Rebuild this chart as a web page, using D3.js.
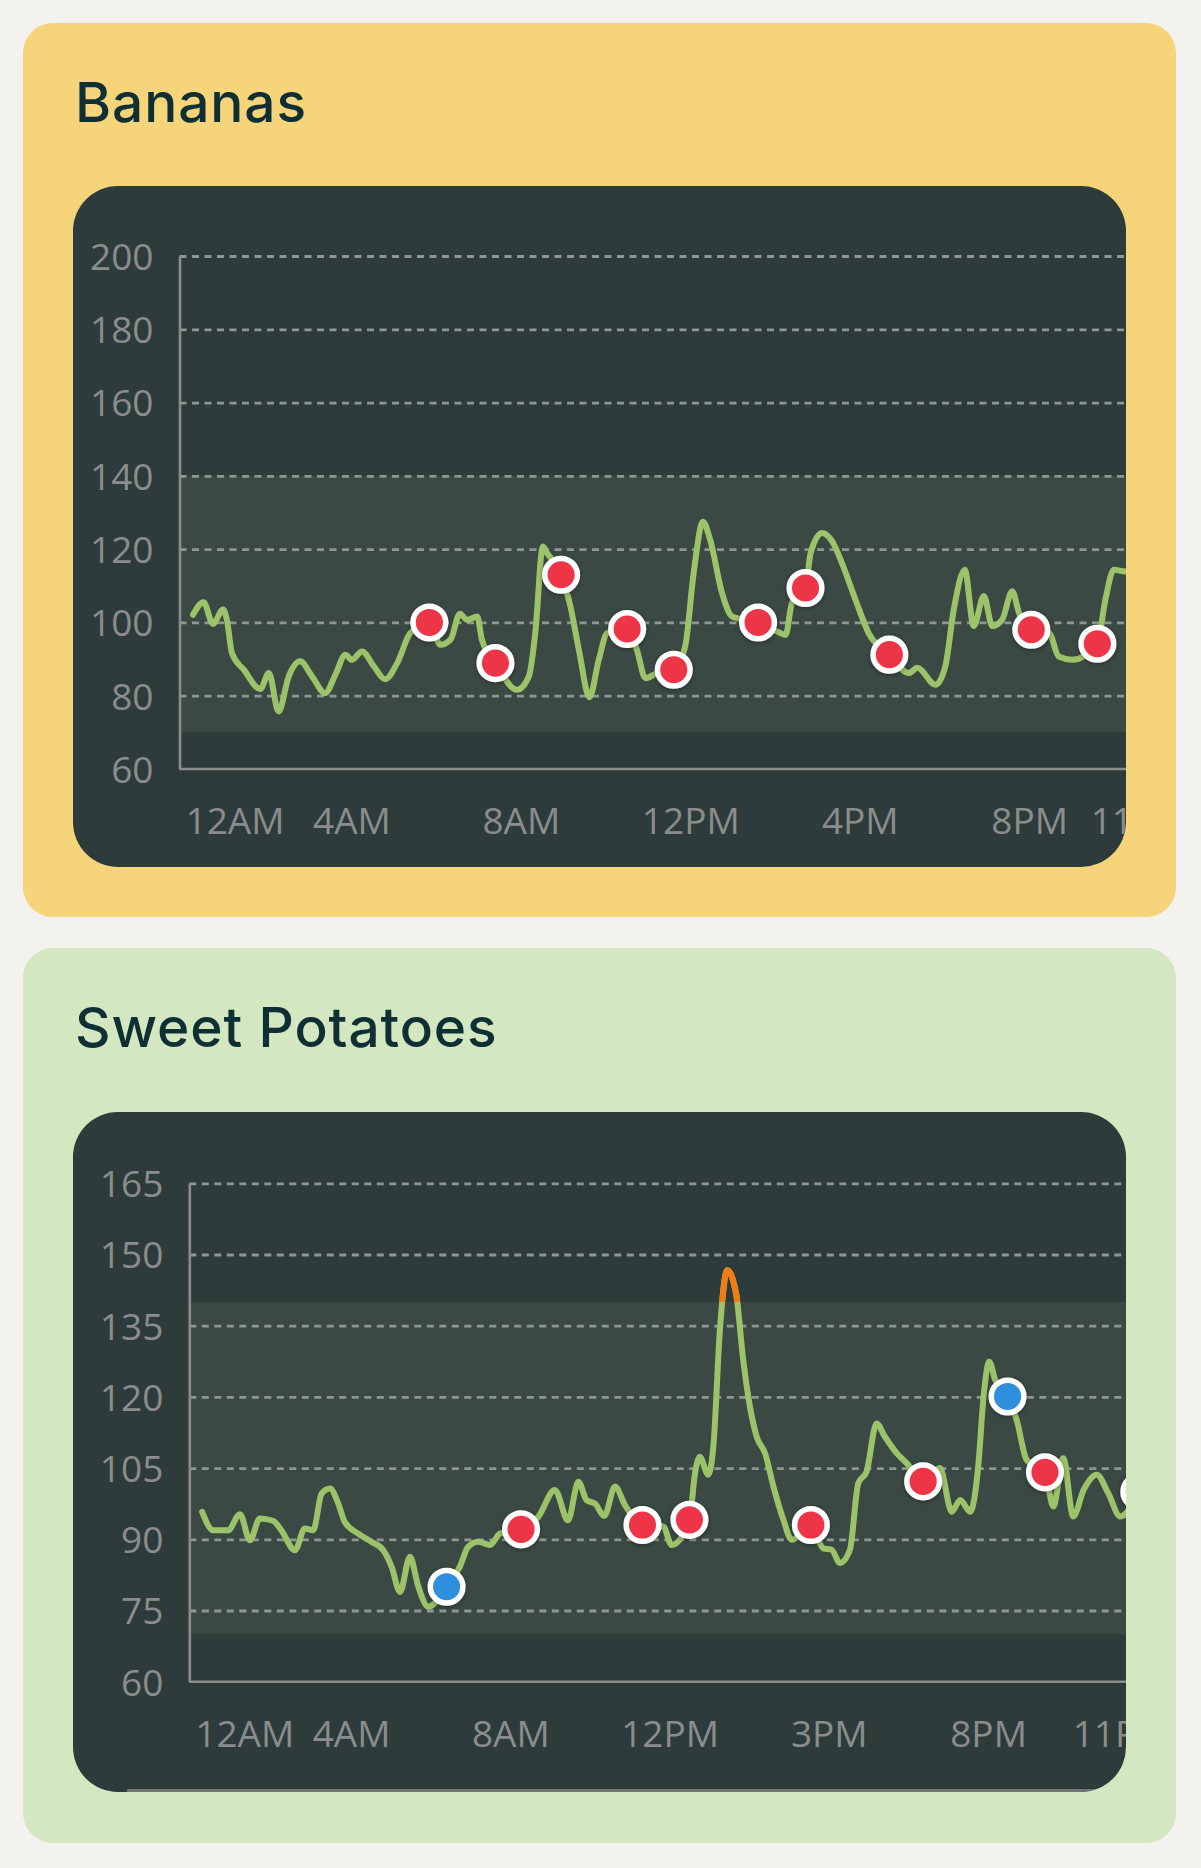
<!DOCTYPE html>
<html>
<head>
<meta charset="utf-8">
<script src="https://cdn.jsdelivr.net/npm/d3@7/dist/d3.min.js"></script>
<style>
  body { margin: 0; background: #f3f2ee; }
  svg { display: block; }
  .title { font-family: Inter, "Noto Sans", sans-serif; font-size: 55px; font-weight: 500; fill: #0e2f34; letter-spacing: 0.9px; }
  .tick text { font-family: "Open Sans", "Noto Sans", sans-serif; font-size: 37px; fill: #8b8d8c; }
</style>
</head>
<body>
<script>
// ---- Bananas ----
var bananaHours  = [0.26,0.51,0.73,0.97,1.06,1.18,1.46,1.85,2.05,2.28,2.52,2.79,3.07,3.38,3.62,3.86,4.01,4.25,4.53,4.80,
                    5.08,5.39,5.84,6.10,6.34,6.56,6.73,6.97,7.08,7.40,7.91,8.19,8.34,8.52,8.62,8.95,9.17,9.37,9.62,9.84,
                    10.04,10.51,10.74,10.94,11.22,11.61,11.88,12.08,12.30,12.47,12.75,12.99,13.60,14.05,14.25,14.40,14.72,14.84,15.11,15.35,
                    15.58,15.90,16.21,16.70,17.16,17.36,17.79,18.02,18.22,18.48,18.69,18.93,19.13,19.36,19.60,19.76,20.05,20.47,20.70,21.02,
                    21.61,21.80,22.00,22.27,22.43];
var bananaValues = [102.1,105.5,99.6,103.5,100.7,91.6,87.1,81.8,86.2,75.7,85.3,89.4,85.3,80.7,85.7,91.2,89.8,92.1,88.0,84.5,
                    88.9,97.1,100,93.9,95.3,102.4,100.7,101.6,95.3,88.9,81.6,85.3,97.1,120.7,118.9,113,104.4,92.5,79.6,89.8,
                    97.1,98.2,92.5,84.8,86.2,87.1,93.5,113.5,127.5,122.5,108,101.6,100,97.5,96.6,105.3,109.4,118.9,124.4,122.1,
                    116.2,106.2,97.1,91.2,86.2,87.6,83.0,88.0,103.5,114.4,99.0,107.2,99.0,100.7,108.5,102.6,98.0,97.1,90.7,89.8,
                    94.2,106.2,114.4,113.9,116.2];
var bananaMarkHours  = [5.84,7.40,8.95,10.51,11.61,13.60,14.72,16.70,20.05,21.61];
var bananaMarkValues = [100,88.9,113,98.2,87.1,100,109.4,91.2,98.0,94.2];
var bananaMarkKinds  = ["high","high","high","high","high","high","high","high","high","high"];
var bananaYTicks = [60,80,100,120,140,160,180,200];
var bananaBand   = [70,140];

// ---- Sweet Potatoes ----
var potatoHours  = [0.26,0.54,0.91,1.21,1.46,1.71,2.04,2.25,2.59,2.84,3.05,3.26,3.47,3.68,3.84,4.18,4.51,4.81,5.02,5.23,
                    5.48,5.69,5.94,6.40,6.73,6.94,7.19,7.49,7.74,8.27,8.70,9.12,9.45,9.71,9.92,10.13,10.36,10.63,10.88,11.32,
                    11.84,12.05,12.50,12.64,12.76,12.97,13.10,13.27,13.45,13.67,13.85,14.02,14.19,14.40,14.61,14.86,15.07,15.55,15.86,16.07,
                    16.28,16.53,16.74,16.95,17.20,17.41,17.71,17.96,18.37,18.79,19.09,19.30,19.55,19.76,19.88,20.03,20.18,20.49,20.72,20.97,
                    21.43,21.64,21.89,22.14,22.40,22.73,23.02,23.32,23.80];
var potatoValues = [95.8,91.9,91.9,95.3,89.8,94.4,93.9,91.9,87.7,92.3,91.9,99.6,100.7,97.5,93.7,91.2,89.5,87.7,84.2,78.9,
                    86.3,80.0,75.8,80.0,84.2,88.4,89.5,88.8,91.2,92.1,94.7,100.4,94.0,102.1,98.2,97.5,94.9,101.1,97.2,93.0,
                    92.7,88.8,94.1,103.9,107.4,103.6,109.5,134.8,146.7,141.8,127.8,117.9,111.6,108.1,101.1,94.1,89.9,93.0,88.1,87.8,
                    85.0,87.8,101.8,104.3,114.4,111.6,108.1,106.0,102.2,105.0,95.8,98.3,95.8,106.0,119.4,127.4,123.6,120.1,115.1,106.7,
                    104.1,96.9,107.1,94.8,100.4,103.6,99.7,94.8,100];
var potatoMarkHours  = [6.40,8.27,11.32,12.50,15.55,18.37,20.49,21.43,23.80];
var potatoMarkValues = [80.0,92.1,93.0,94.1,93.0,102.2,120.1,104.1,100];
var potatoMarkKinds  = ["low","high","high","high","high","high","low","high","high"];
var potatoYTicks = [60,75,90,105,120,135,150,165];
var potatoBand   = [70,140];

// ---- x axis labels ----
var tickHours = [0,4,8,12,16,20,23];
var bananaXLabels = ["12AM","4AM","8AM","12PM","4PM","8PM","11PM"];
var potatoXLabels = ["12AM","4AM","8AM","12PM","3PM","8PM","11PM"];

var markColor = { high: "#ee3447", low: "#2e8fdf" };

var svg = d3.select("body").append("svg")
  .attr("width", 1201)
  .attr("height", 1868);

var defs = svg.append("defs");
defs.append("filter").attr("id", "shadow")
  .attr("x", "-50%").attr("y", "-50%").attr("width", "200%").attr("height", "200%")
  .append("feDropShadow")
  .attr("dx", 0).attr("dy", 1).attr("stdDeviation", 2.2)
  .attr("flood-color", "#000").attr("flood-opacity", 0.4);

function drawCard(o) {
  var panelLeft = 73, panelRight = 1126;
  var g = svg.append("g");

  g.append("rect")
    .attr("x", 23).attr("y", o.cardY)
    .attr("width", 1153).attr("height", o.cardH)
    .attr("rx", 30)
    .attr("fill", o.cardColor);

  g.append("text")
    .attr("class", "title")
    .attr("x", 75).attr("y", o.titleY)
    .text(o.title);

  defs.append("clipPath").attr("id", "panel-" + o.id)
    .append("rect")
    .attr("x", panelLeft).attr("y", o.panelY)
    .attr("width", panelRight - panelLeft).attr("height", o.panelH)
    .attr("rx", 45);

  var p = g.append("g").attr("clip-path", "url(#panel-" + o.id + ")");

  p.append("rect")
    .attr("x", panelLeft).attr("y", o.panelY)
    .attr("width", panelRight - panelLeft).attr("height", o.panelH)
    .attr("fill", "#2e3b3b");

  var x = d3.scaleLinear().domain([0, o.xMax]).range([o.axisX + 2.5, o.xRight]);
  var y = d3.scaleLinear().domain([o.yTicks[0], o.yTicks[o.yTicks.length - 1]]).range([o.yBottom, o.yTop]);

  // normal range band
  p.append("rect")
    .attr("x", o.axisX).attr("y", y(o.band[1]))
    .attr("width", panelRight - o.axisX)
    .attr("height", y(o.band[0]) - y(o.band[1]))
    .attr("fill", "#3a4943");

  // dashed grid
  var grid = p.append("g")
    .attr("transform", "translate(" + o.axisX + ",0)")
    .call(d3.axisLeft(y).tickValues(o.yTicks.slice(1)).tickSize(-(panelRight - o.axisX)).tickFormat(""));
  grid.select(".domain").remove();
  grid.selectAll(".tick line")
    .attr("stroke", "#8f9693")
    .attr("stroke-width", 2.8)
    .attr("stroke-dasharray", "7,5.5");

  // y axis with labels
  var yAxis = p.append("g")
    .attr("transform", "translate(" + o.axisX + ",0)")
    .call(d3.axisLeft(y).tickValues(o.yTicks).tickSize(0).tickSizeOuter(0).tickPadding(26));
  yAxis.select(".domain").attr("stroke", "#8a8d8c").attr("stroke-width", 2.6);
  yAxis.selectAll(".tick text").attr("dy", "0.36em");

  // x axis line
  p.append("line")
    .attr("x1", o.axisX).attr("x2", panelRight)
    .attr("y1", o.yBottom).attr("y2", o.yBottom)
    .attr("stroke", "#8a8d8c").attr("stroke-width", 2.6);

  var xAxis = p.append("g")
    .attr("transform", "translate(0," + o.yBottom + ")")
    .call(d3.axisBottom(x).tickValues(tickHours).tickSize(0)
      .tickFormat(function (d, i) { return o.xLabels[i]; }));
  xAxis.select(".domain").remove();
  xAxis.selectAll(".tick text")
    .attr("y", 65).attr("dy", 0)
    .attr("text-anchor", function (d, i) {
      if (i === 0) return "start";
      if (i === tickHours.length - 1) return "end";
      return "middle";
    })
    .attr("x", function (d, i) {
      if (i === 0) return 3;
      if (i === tickHours.length - 1) return o.xRight - x(d);
      return 0;
    });

  // line
  var pts = o.hours.map(function (h, i) { return [h, o.values[i]]; });
  var line = d3.line()
    .x(function (d) { return x(d[0]); })
    .y(function (d) { return y(d[1]); })
    .curve(d3.curveMonotoneX);

  p.append("path")
    .datum(pts)
    .attr("d", line)
    .attr("fill", "none")
    .attr("stroke", "#9cc36a")
    .attr("stroke-width", 6)
    .attr("stroke-linejoin", "round")
    .attr("stroke-linecap", "round");

  // part above the band drawn in orange
  defs.append("clipPath").attr("id", "above-" + o.id)
    .append("rect")
    .attr("x", panelLeft).attr("y", o.panelY)
    .attr("width", panelRight - panelLeft)
    .attr("height", y(o.band[1]) - o.panelY);

  p.append("g").attr("clip-path", "url(#above-" + o.id + ")")
    .append("path")
    .datum(pts)
    .attr("d", line)
    .attr("fill", "none")
    .attr("stroke", "#f07d14")
    .attr("stroke-width", 6)
    .attr("stroke-linejoin", "round");

  // markers
  var marks = o.markHours.map(function (h, i) {
    return { h: h, v: o.markValues[i], kind: o.markKinds[i] };
  });
  p.selectAll(".mark").data(marks).enter()
    .append("circle")
    .attr("class", "mark")
    .attr("cx", function (d) { return x(d.h); })
    .attr("cy", function (d) { return y(d.v); })
    .attr("r", 16.3)
    .attr("fill", function (d) { return markColor[d.kind]; })
    .attr("stroke", "#fff")
    .attr("stroke-width", 5.5)
    .attr("filter", "url(#shadow)");

  if (o.bottomLine) {
    p.append("line")
      .attr("x1", 127).attr("x2", 1110)
      .attr("y1", o.panelY + o.panelH - 1.5).attr("y2", o.panelY + o.panelH - 1.5)
      .attr("stroke", "#6f7674").attr("stroke-width", 3);
  }
}

drawCard({
  id: "bananas", title: "Bananas",
  cardY: 23, cardH: 894, cardColor: "#f5d47a", titleY: 122,
  panelY: 186, panelH: 681,
  axisX: 179.5, yTop: 256, yBottom: 769,
  xMax: 23.75, xRight: 1188,
  yTicks: bananaYTicks, band: bananaBand, xLabels: bananaXLabels,
  hours: bananaHours, values: bananaValues,
  markHours: bananaMarkHours, markValues: bananaMarkValues, markKinds: bananaMarkKinds,
  bottomLine: false
});

drawCard({
  id: "potatoes", title: "Sweet Potatoes",
  cardY: 948, cardH: 895, cardColor: "#d3e7c0", titleY: 1047,
  panelY: 1112, panelH: 680,
  axisX: 189.3, yTop: 1183.3, yBottom: 1681.7,
  xMax: 24.57, xRight: 1170,
  yTicks: potatoYTicks, band: potatoBand, xLabels: potatoXLabels,
  hours: potatoHours, values: potatoValues,
  markHours: potatoMarkHours, markValues: potatoMarkValues, markKinds: potatoMarkKinds,
  bottomLine: true
});
</script>
</body>
</html>
